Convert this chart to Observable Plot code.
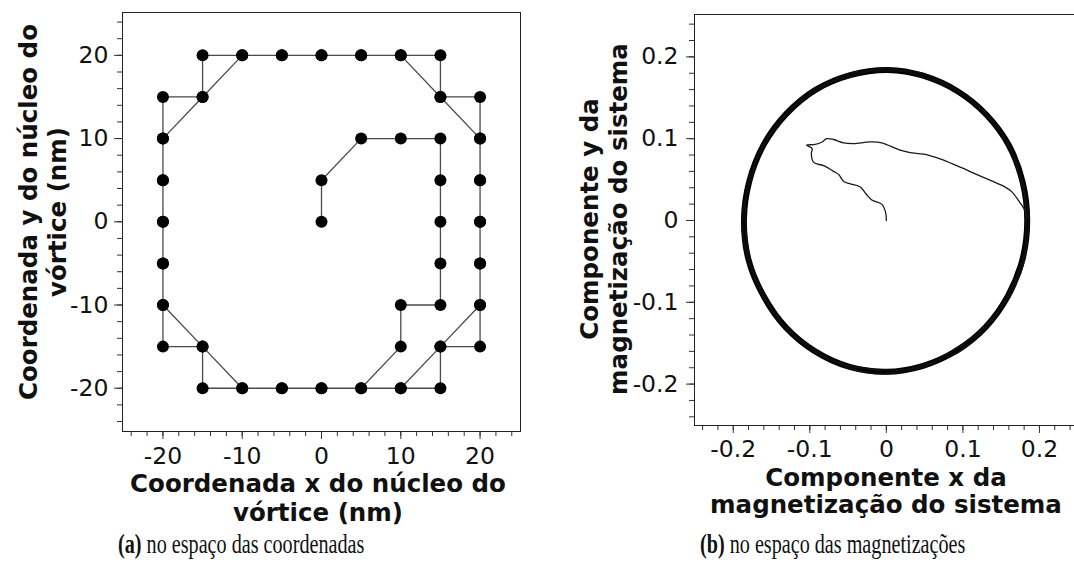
<!DOCTYPE html>
<html>
<head>
<meta charset="utf-8">
<script src="https://cdn.jsdelivr.net/npm/d3@7"></script>
<script src="https://cdn.jsdelivr.net/npm/@observablehq/plot@0.6"></script>
<style>
  html, body { margin: 0; padding: 0; background: #fff; overflow: hidden; }
  #fig { position: relative; width: 1074px; height: 570px; overflow: hidden; }
  #fig svg { position: absolute; top: 0; }
  .title { position: absolute; font: bold 24.5px "DejaVu Sans", sans-serif; color: #111;
           line-height: 29px; text-align: center; white-space: pre; }
  .ytitle { width: 440px; height: 58px; transform: rotate(-90deg); transform-origin: 50% 50%; }
  .xline { width: 520px; line-height: 20px; }
  .caption { position: absolute; font: 28px "Liberation Serif", serif; line-height: 30px; color: #111;
             white-space: pre; transform: scaleX(0.72); transform-origin: 0 50%; }
</style>
</head>
<body>
<div id="fig"></div>
<script>
// (a) vortex-core positions (nm), in the order they are visited
const coreX = [0, 0, 5, 10, 15, 15, 15, 15, 15, 10, 10, 5, 0, -5, -10, -15, -20, -20, -20, -20, -20, -15, -10, -5, 0, 5, 10, 15, 20, 20, 20, 20, 20, 15, 10,
               5, 0, -5, -10, -15, -15, -20, -20, -20, -20, -20, -20, -20, -15, -15, -10, -5, 0, 5, 10, 15, 15, 20, 20, 20, 20, 20, 20, 20, 15, 15, 10];
const coreY = [0, 5, 10, 10, 10, 5, 0, -5, -10, -10, -15, -20, -20, -20, -20, -15, -10, -5, 0, 5, 10, 15, 20, 20, 20, 20, 20, 15, 10, 5, 0, -5, -10, -15, -20,
               -20, -20, -20, -20, -20, -15, -15, -10, -5, 0, 5, 10, 15, 15, 20, 20, 20, 20, 20, 20, 20, 15, 15, 10, 5, 0, -5, -10, -15, -15, -20, -20];
const coreMajorTicks = [-20, -10, 0, 10, 20];

// (b) magnetization: transient from the origin out to the orbit
const transX = [0.000, -0.001, -0.006, -0.019, -0.027, -0.034, -0.048, -0.056, -0.062, -0.067, -0.082, -0.095, -0.098, -0.097, -0.104,
                -0.093, -0.084, -0.078, -0.069, -0.056, -0.043, -0.021, -0.006, 0.018, 0.031, 0.049, 0.071, 0.092, 0.114, 0.136, 0.153, 0.164, 0.173, 0.180, 0.184];
const transY = [0.000, 0.010, 0.020, 0.025, 0.033, 0.041, 0.045, 0.048, 0.056, 0.059, 0.067, 0.071, 0.082, 0.088, 0.092,
                0.093, 0.096, 0.100, 0.099, 0.095, 0.094, 0.096, 0.095, 0.086, 0.083, 0.081, 0.075, 0.067, 0.058, 0.049, 0.042, 0.035, 0.024, 0.014, 0.004];

// (b) successive turns of the steady gyration orbit
const orbitAX = [0.184, 0.178, 0.160, 0.131, 0.093, 0.048, 0.002, -0.046, -0.092, -0.131, -0.160, -0.179, -0.186, -0.180, -0.160, -0.131, -0.093, -0.048, 0.000, 0.047, 0.092, 0.130, 0.159, 0.178];
const orbitAY = [0.000, 0.047, 0.092, 0.129, 0.158, 0.177, 0.184, 0.178, 0.160, 0.130, 0.093, 0.048, 0.001, -0.048, -0.093, -0.131, -0.160, -0.179, -0.185, -0.178, -0.159, -0.130, -0.092, -0.047];
const orbitBX = [0.182, 0.179, 0.158, 0.133, 0.090, 0.050, -0.001, -0.049, -0.090, -0.133, -0.158, -0.181, -0.184, -0.178, -0.162, -0.129, -0.095, -0.046, 0.003, 0.049, 0.094, 0.128, 0.161, 0.180];
const orbitBY = [0.010, 0.044, 0.095, 0.127, 0.161, 0.175, 0.186, 0.176, 0.162, 0.128, 0.095, 0.045, -0.002, -0.050, -0.091, -0.133, -0.158, -0.181, -0.187, -0.176, -0.161, -0.132, -0.090, -0.049];
const orbitCX = [0.186, 0.176, 0.161, 0.129, 0.095, 0.046, 0.004, -0.047, -0.094, -0.129, -0.162, -0.177, -0.188, -0.181, -0.158, -0.133, -0.091, -0.050, -0.002, 0.045, 0.090, 0.132, 0.157, 0.179];
const orbitCY = [0.004, 0.049, 0.090, 0.132, 0.157, 0.180, 0.183, 0.180, 0.157, 0.132, 0.090, 0.050, 0.003, -0.046, -0.095, -0.129, -0.162, -0.177, -0.183, -0.180, -0.157, -0.128, -0.094, -0.045];
const magMajorTicks = [-0.2, -0.1, 0, 0.1, 0.2];

const core = coreX.map((x, i) => ({x, y: coreY[i]}));
const trans = transX.map((x, i) => ({x, y: transY[i]}));
const pairs = (xs, ys, turn) => xs.map((x, i) => ({x, y: ys[i], turn}));
const orbitThick = pairs(orbitAX, orbitAY, "A");
const orbitThin = [...pairs(orbitBX, orbitBY, "B"), ...pairs(orbitCX, orbitCY, "C")];

const fmt = d => String(d);
const axisStyle = {stroke: "#333", fill: "#111"};

const fig = document.getElementById("fig");

// Panel (a): coordinate space
const plotA = Plot.plot({
  width: 540, height: 480,
  marginLeft: 122, marginRight: 20, marginTop: 12, marginBottom: 49,
  style: {fontFamily: "DejaVu Sans, sans-serif", fontSize: "23.5px", background: "transparent", color: "#111"},
  x: {domain: [-25.1, 25.1]},
  y: {domain: [-25.2, 25.15]},
  marks: [
    Plot.axisX({ticks: d3.range(-24, 25, 2), tickSize: 5, stroke: "#333", fill: "none", label: null}),
    Plot.axisY({ticks: d3.range(-24, 25, 2), tickSize: 5, stroke: "#333", fill: "none", label: null}),
    Plot.axisX({ticks: coreMajorTicks, tickSize: 8, tickPadding: 8, tickFormat: fmt, label: null, ...axisStyle}),
    Plot.axisY({ticks: coreMajorTicks, tickSize: 8, tickPadding: 6, tickFormat: fmt, label: null, ...axisStyle}),
    Plot.frame({stroke: "#222"}),
    Plot.line(core, {x: "x", y: "y", stroke: "#4a4a4a", strokeWidth: 1.3}),
    Plot.dot(core, {x: "x", y: "y", r: 6, fill: "#000", stroke: "none"})
  ]
});
plotA.style.left = "0px";
fig.appendChild(plotA);

// Panel (b): magnetization space
const plotB = Plot.plot({
  width: 530, height: 480,
  marginLeft: 134, marginRight: 13, marginTop: 14, marginBottom: 55,
  style: {fontFamily: "DejaVu Sans, sans-serif", fontSize: "23.5px", background: "transparent", color: "#111"},
  x: {domain: [-0.2506, 0.2497]},
  y: {domain: [-0.2506, 0.2518]},
  marks: [
    Plot.axisX({ticks: d3.range(-0.24, 0.25, 0.02), tickSize: 5, stroke: "#333", fill: "none", label: null}),
    Plot.axisY({ticks: d3.range(-0.24, 0.25, 0.02), tickSize: 5, stroke: "#333", fill: "none", label: null}),
    Plot.axisX({ticks: magMajorTicks, tickSize: 8, tickPadding: 7, tickFormat: fmt, label: null, ...axisStyle}),
    Plot.axisY({ticks: magMajorTicks, tickSize: 8, tickPadding: 8, tickFormat: fmt, label: null, ...axisStyle}),
    Plot.frame({stroke: "#222"}),
    Plot.line(orbitThick, {x: "x", y: "y", z: "turn", curve: "catmull-rom-closed", stroke: "#000", strokeWidth: 6}),
    Plot.line(orbitThin, {x: "x", y: "y", z: "turn", curve: "catmull-rom-closed", stroke: "#111", strokeWidth: 2, strokeOpacity: 0.85}),
    Plot.line(trans, {x: "x", y: "y", curve: "catmull-rom", stroke: "#1a1a1a", strokeWidth: 1.3})
  ]
});
plotB.style.left = "560px";
fig.appendChild(plotB);

// Axis titles and captions
function addText(cls, text, css) {
  const el = document.createElement("div");
  el.className = cls;
  el.textContent = text;
  Object.assign(el.style, css);
  fig.appendChild(el);
  return el;
}
addText("title xline", "Coordenada x do núcleo do", {left: "58px", top: "474px"});
addText("title xline", "vórtice (nm)", {left: "58px", top: "503px"});
addText("title ytitle", "Coordenada y do núcleo do\nvórtice (nm)", {left: "-177.5px", top: "183px"});
addText("title xline", "Componente x da", {left: "626px", top: "467.5px"});
addText("title xline", "magnetização do sistema", {left: "626px", top: "494.5px"});
addText("title ytitle", "Componente y da\nmagnetização do sistema", {left: "383.5px", top: "190px"});

addText("caption", "", {left: "118px", top: "529px"}).innerHTML = "<b>(a)</b> no espaço das coordenadas";
addText("caption", "", {left: "700px", top: "529px"}).innerHTML = "<b>(b)</b> no espaço das magnetizações";
</script>
</body>
</html>
